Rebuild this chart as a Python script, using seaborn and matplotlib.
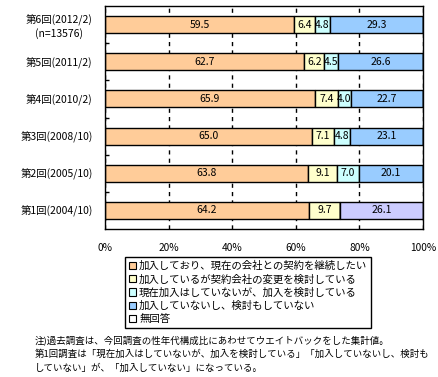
import numpy as np
import matplotlib.pyplot as plt
from matplotlib.patches import Patch
from matplotlib.ticker import FixedLocator
import seaborn as sns

plt.rcParams['font.family'] = ['Noto Sans CJK JP', 'DejaVu Sans']
plt.rcParams['font.size'] = 7

# データ（上から順に）
rounds = ['第6回(2012/2)\n(n=13576)', '第5回(2011/2)', '第4回(2010/2)',
          '第3回(2008/10)', '第2回(2005/10)', '第1回(2004/10)']
keep = [59.5, 62.7, 65.9, 65.0, 63.8, 64.2]
switch = [6.4, 6.2, 7.4, 7.1, 9.1, 9.7]
considering = [4.8, 4.5, 4.0, 4.8, 7.0, 0.0]
not_join = [29.3, 26.6, 22.7, 23.1, 20.1, 0.0]
not_join_old = [0.0, 0.0, 0.0, 0.0, 0.0, 26.1]  # 第1回のみ「加入していない」
no_answer = [0.0, 0.0, 0.0, 0.0, 0.0, 0.0]

legend_labels = ['加入しており、現在の会社との契約を継続したい',
                 '加入しているが契約会社の変更を検討している',
                 '現在加入はしていないが、加入を検討している',
                 '加入していないし、検討もしていない',
                 '無回答']
tick_labels = ['0%', '20%', '40%', '60%', '80%', '100%']
notes = ['注)過去調査は、今回調査の性年代構成比にあわせてウエイトバックをした集計値。',
         '第1回調査は「現在加入はしていないが、加入を検討している」「加入していないし、検討も',
         'していない」が、「加入していない」になっている。']

series = [keep, switch, considering, not_join, not_join_old, no_answer]
colors = ['#FFCC99', '#FFFFCC', '#CCFFFF', '#99CCFF', '#CCCCFF', '#FFFFFF']
legend_colors = ['#FFCC99', '#FFFFCC', '#CCFFFF', '#99CCFF', '#FFFFFF']

fig, ax = plt.subplots(figsize=(4.38, 3.77), dpi=100)
fig.subplots_adjust(left=105 / 438, right=423 / 438, top=1 - 6 / 377, bottom=1 - 229 / 377)

left = np.zeros(len(rounds))
for vals, color in zip(series, colors):
    sns.barplot(x=vals, y=rounds, order=rounds, orient='h', left=left,
                color=color, saturation=1, edgecolor='black', linewidth=1,
                width=0.46, errorbar=None, ax=ax)
    ax.bar_label(ax.containers[-1], labels=[f'{v:.1f}' if v > 0 else '' for v in vals],
                 label_type='center', fontsize=7.5)
    left = left + np.array(vals)

ax.set_xlim(0, 100)
ax.set_ylim(len(rounds) - 0.5, -0.5)
ax.set_xticks(np.arange(0, 101, 20))
ax.set_xticklabels(tick_labels)
ax.set_xlabel('')
ax.set_ylabel('')
ax.set_facecolor('white')
ax.xaxis.grid(True, linestyle=(0, (3, 3)), color='black', linewidth=1)
ax.yaxis.grid(False)
ax.set_axisbelow(True)
ax.tick_params(axis='x', length=0, pad=10, labelsize=7.3)
ax.tick_params(axis='y', which='major', length=0, pad=9, labelsize=7.5)
ax.yaxis.set_minor_locator(FixedLocator(np.arange(0.5, len(rounds) - 0.5, 1)))
ax.tick_params(axis='y', which='minor', direction='in', length=3, width=1, left=True, color='black')
for lab in ax.get_yticklabels():
    lab.set_multialignment('center')
for sp in ax.spines.values():
    sp.set_color('black')
    sp.set_linewidth(1)
    sp.set_visible(True)

handles = [Patch(facecolor=c, edgecolor='black', linewidth=0.8) for c in legend_colors]
leg = fig.legend(handles, legend_labels, loc='upper left',
                 bbox_to_anchor=(125 / 438, 1 - 257 / 377), bbox_transform=fig.transFigure,
                 borderaxespad=0, frameon=True, fancybox=False, edgecolor='black',
                 framealpha=1, handlelength=0.7, handleheight=0.7, handletextpad=0.3,
                 labelspacing=0.3, borderpad=0.35, fontsize=7.5)
leg.get_frame().set_linewidth(1)

for i, line in enumerate(notes):
    fig.text(35 / 438, 1 - (340 + 14 * i) / 377, line, va='center', ha='left', fontsize=6.8)

plt.savefig('out.png', dpi=100)
